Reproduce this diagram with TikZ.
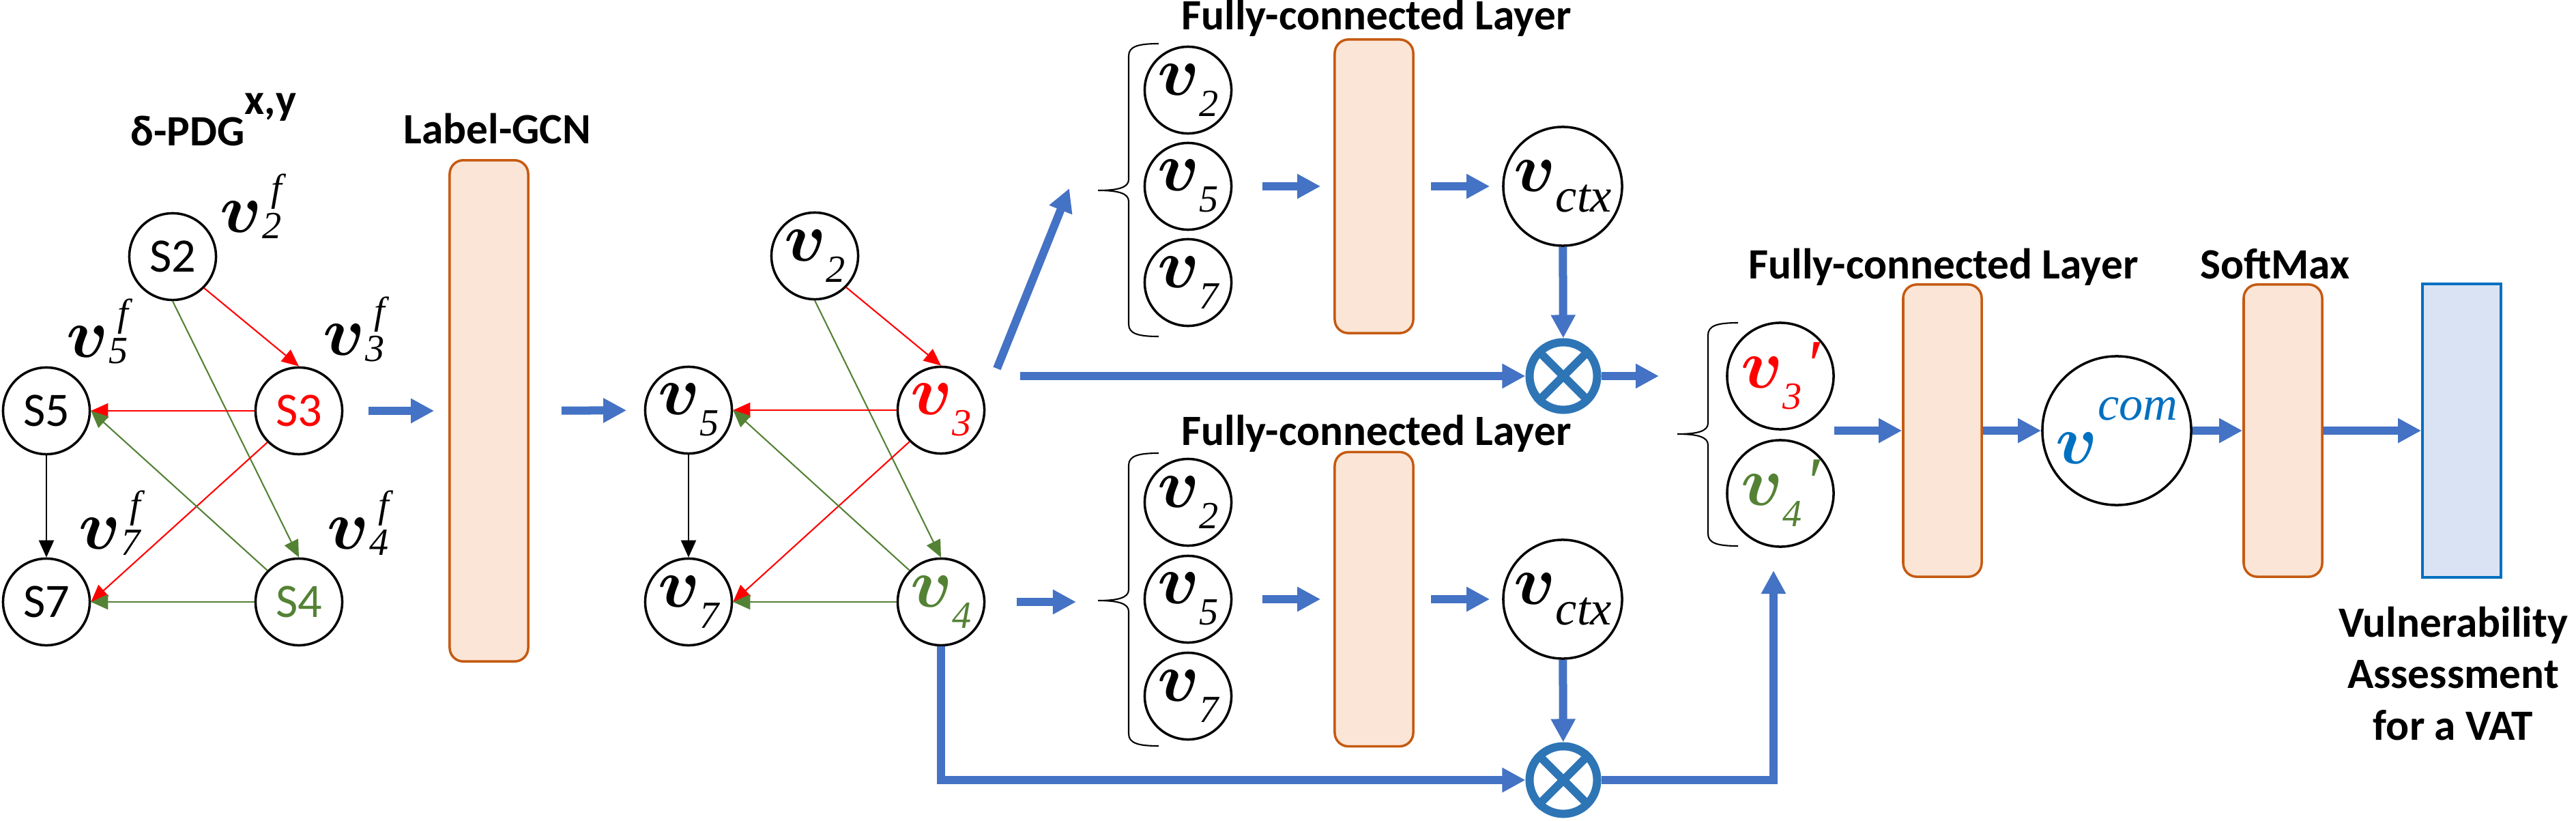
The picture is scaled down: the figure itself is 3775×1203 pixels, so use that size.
\documentclass[tikz,border=0pt]{standalone}
\usepackage{fix-cm}
\usepackage{fontspec}
\setmainfont{Carlito}
\newfontfamily\tnr{Liberation Serif}
\usetikzlibrary{%
  arrows.meta%
}

\definecolor{flowblue}{HTML}{4472C4}
\definecolor{prodblue}{HTML}{2E75B6}
\definecolor{fcfill}{HTML}{FBE5D6}
\definecolor{fcline}{HTML}{C55A11}
\definecolor{outfill}{HTML}{DAE3F3}
\definecolor{outblue}{HTML}{0070C0}
\definecolor{pdggreen}{HTML}{548235}

\newcommand{\vlet}{{\boldmath$v$}}
\newcommand{\vsub}[1]{{\fontsize{29}{29}\selectfont\vlet\tnr\itshape\raisebox{-8.8pt}{\fontsize{16}{16}\selectfont #1}}}
\newcommand{\vprm}[1]{{\fontsize{29}{29}\selectfont\vlet\tnr\itshape\raisebox{-8.8pt}{\fontsize{16}{16}\selectfont #1}\kern1pt′}}
\newcommand{\vfeat}[1]{{\fontsize{29}{29}\selectfont\vlet\tnr\itshape\rlap{\kern3.7pt\raisebox{13pt}{\fontsize{16}{16}\selectfont f}}\raisebox{-2.8pt}{\fontsize{16}{16}\selectfont #1}}}
\newcommand{\vctx}{{\fontsize{29}{29}\selectfont\vlet\tnr\itshape\raisebox{-8.5pt}{\fontsize{20}{20}\selectfont ctx}}}
\newcommand{\vcom}{{\fontsize{29}{29}\selectfont\vlet\tnr\itshape\raisebox{18pt}{\fontsize{20}{20}\selectfont com}}}

\newcommand{\openbrace}[4]{%
  \draw[line width=0.6pt] (#1,#2) .. controls (#1-30,#2) and (#1-44,#2+4) .. (#1-44,#2+18)
    -- (#1-44,#3-16) .. controls (#1-44,#3-4) and (#1-60,#3) .. (#1-89,#3)
    .. controls (#1-60,#3) and (#1-44,#3+4) .. (#1-44,#3+16)
    -- (#1-44,#4-18) .. controls (#1-44,#4-4) and (#1-30,#4) .. (#1,#4);
}

\tikzset{
  snode/.style={circle, draw, line width=1pt, minimum size=1.27cm, inner sep=0pt,
    font=\fontsize{20}{20}\selectfont},
  vnode/.style={circle, draw, line width=1pt, minimum size=1.27cm, inner sep=0pt},
  link/.style={-{Triangle[length=0.25cm,width=0.22cm]}, line width=0.6pt},
  flow/.style={-{Triangle[length=0.34cm,width=0.34cm]}, flowblue, line width=0.12cm},
  fcbox/.style={draw=fcline, fill=fcfill, line width=1pt, rounded corners=0.2cm,
    minimum width=1.15cm},
  prodnode/.style={circle, draw=prodblue, line width=0.12cm, minimum size=0.99cm, inner sep=0pt},
  headtext/.style={font=\bfseries\fontsize{18}{18}\selectfont, inner sep=0pt}
}

\begin{document}
\begin{tikzpicture}[x=0.01cm, y=-0.01cm]
  \useasboundingbox (0,0) rectangle (3775,1203);

  % delta-PDG
  \node[snode] (s2) at (253,376) {S2};
  \node[snode] (s5) at (68,602) {S5};
  \node[snode, text=red] (s3) at (438,602) {S3};
  \node[snode] (s7) at (68,882) {S7};
  \node[snode, text=pdggreen] (s4) at (438,882) {S4};

  \draw[link, red] (s2.south east) -- (s3.north);
  \draw[link, pdggreen] (s2.south) -- (s4.north);
  \draw[link, red] (s3.west) -- (s5.east);
  \draw[link, red] (s3.south west) -- (s7.east);
  \draw[link, pdggreen] (s4.north west) -- (s5.east);
  \draw[link, pdggreen] (s4.west) -- (s7.east);
  \draw[link] (s5.south) -- (s7.north);

  \node[inner sep=0pt, anchor=base west] (f2) at (322,340) {\vfeat{2}};
  \node[inner sep=0pt, anchor=base west] (f5) at (97,523) {\vfeat{5}};
  \node[inner sep=0pt, anchor=base west] (f3) at (473,520) {\vfeat{3}};
  \node[inner sep=0pt, anchor=base west] (f7) at (115,804) {\vfeat{7}};
  \node[inner sep=0pt, anchor=base west] (f4) at (479,804) {\vfeat{4}};

  \node[headtext, anchor=base west] (pdglab) at (191,213) {δ-PDG\raisebox{13pt}{x,y}};

  % Label-GCN
  \node[fcbox, minimum height=7.34cm] (gcn) at (716.5,602) {};
  \node[headtext, anchor=base] (gcnlab) at (729,210) {Label-GCN};

  \draw[flow, shorten <=0.365cm, shorten >=0.21cm] (s3) -- (gcn);

  % labelled graph
  \node[vnode] (g2) at (1194,375) {\vsub{2}};
  \node[vnode] (g5) at (1009,601) {\vsub{5}};
  \node[vnode, text=red] (g3) at (1379,601) {\vsub{3}};
  \node[vnode] (g7) at (1009,882) {\vsub{7}};
  \node[vnode, text=pdggreen] (g4) at (1379,882) {\vsub{4}};

  \draw[flow, shorten <=0.47cm, shorten >=0.255cm] (gcn) -- (g5);

  \draw[link, red] (g2.south east) -- (g3.north);
  \draw[link, pdggreen] (g2.south) -- (g4.north);
  \draw[link, red] (g3.west) -- (g5.east);
  \draw[link, red] (g3.south west) -- (g7.east);
  \draw[link, pdggreen] (g4.north west) -- (g5.east);
  \draw[link, pdggreen] (g4.west) -- (g7.east);
  \draw[link] (g5.south) -- (g7.north);

  % upper branch
  \openbrace{1698}{64}{279}{493}
  \node[vnode] (ua2) at (1741,132) {\vsub{2}};
  \node[vnode] (ua5) at (1741,273) {\vsub{5}};
  \node[vnode] (ua7) at (1741,414) {\vsub{7}};

  \node[fcbox, minimum height=4.30cm] (fcA) at (2013.5,273) {};
  \node[headtext, anchor=base] (fclabA) at (2017,44) {Fully-connected Layer};
  \node[circle, draw, line width=1pt, minimum size=1.74cm, inner sep=0pt] (ctxA) at (2290,273) {\vctx};
  \node[prodnode] (mulA) at (2291,551) {};
  \draw[prodblue, line width=0.12cm, shorten <=0.06cm, shorten >=0.06cm]
    (mulA.45) -- (mulA.225) (mulA.135) -- (mulA.315);

  \coordinate (forkA) at (1461,540);
  \coordinate (forkB) at (1567,276);
  \coordinate (lineA) at (1495,551);
  \coordinate (joinA) at (2431,551);

  \draw[flow] (forkA) -- (forkB);
  \draw[flow, shorten <=0.435cm, shorten >=0.19cm] (ua5) -- (fcA);
  \draw[flow, shorten <=0.24cm, shorten >=0.18cm] (fcA) -- (ctxA);
  \draw[flow] (ctxA) -- (mulA);
  \draw[flow] (lineA) -- (mulA);
  \draw[flow] (mulA) -- (joinA);

  % lower branch
  \openbrace{1698}{664}{880}{1093}
  \node[vnode] (ub2) at (1741,736) {\vsub{2}};
  \node[vnode] (ub5) at (1741,878) {\vsub{5}};
  \node[vnode] (ub7) at (1741,1020) {\vsub{7}};

  \node[fcbox, minimum height=4.31cm] (fcB) at (2013.5,878) {};
  \node[headtext, anchor=base] (fclabB) at (2017,652) {Fully-connected Layer};
  \node[circle, draw, line width=1pt, minimum size=1.74cm, inner sep=0pt] (ctxB) at (2290,878) {\vctx};
  \node[prodnode] (mulB) at (2291,1143) {};
  \draw[prodblue, line width=0.12cm, shorten <=0.06cm, shorten >=0.06cm]
    (mulB.45) -- (mulB.225) (mulB.135) -- (mulB.315);

  \coordinate (tipB) at (1577,882);
  \coordinate (upB) at (2599,836);

  \draw[flow, shorten <=0.455cm] (g4.east) -- (tipB);
  \draw[flow, shorten <=0.435cm, shorten >=0.19cm] (ub5) -- (fcB);
  \draw[flow, shorten <=0.24cm, shorten >=0.18cm] (fcB) -- (ctxB);
  \draw[flow] (ctxB) -- (mulB);
  \draw[flow] (g4.south) |- (mulB);
  \draw[flow] (mulB) -| (upB);

  % classifier
  \openbrace{2547}{473}{636}{800}
  \node[circle, draw, line width=1pt, minimum size=1.56cm, inner sep=0pt, text=red] (p3) at (2609,551) {\vprm{3}};
  \node[circle, draw, line width=1pt, minimum size=1.56cm, inner sep=0pt, text=pdggreen] (p4) at (2609,723) {\vprm{4}};

  \node[fcbox, minimum height=4.28cm] (fcC) at (2846.5,631) {};
  \node[headtext, anchor=base] (fclabC) at (2848,408) {Fully-connected Layer};
  \node[circle, draw, line width=1pt, minimum size=2.18cm, inner sep=0pt, text=outblue] (com) at (3102,631) {\vcom};
  \node[fcbox, minimum height=4.28cm] (soft) at (3345.5,631) {};
  \node[headtext, anchor=base] (softlab) at (3334,408) {SoftMax};
  \node[draw=outblue, fill=outfill, line width=1pt, minimum width=1.15cm, minimum height=4.3cm] (verdict) at (3607.5,631) {};
  \node[headtext, anchor=north, align=center, font=\bfseries\fontsize{18}{21.5}\selectfont] (verdictlab) at (3595,888) {Vulnerability\\Assessment\\for a VAT};

  \coordinate (pairC) at (2688,631);

  \draw[flow] (pairC) -- (fcC);
  \draw[flow] (fcC) -- (com);
  \draw[flow] (com) -- (soft);
  \draw[flow] (soft) -- (verdict);

\end{tikzpicture}
\end{document}
